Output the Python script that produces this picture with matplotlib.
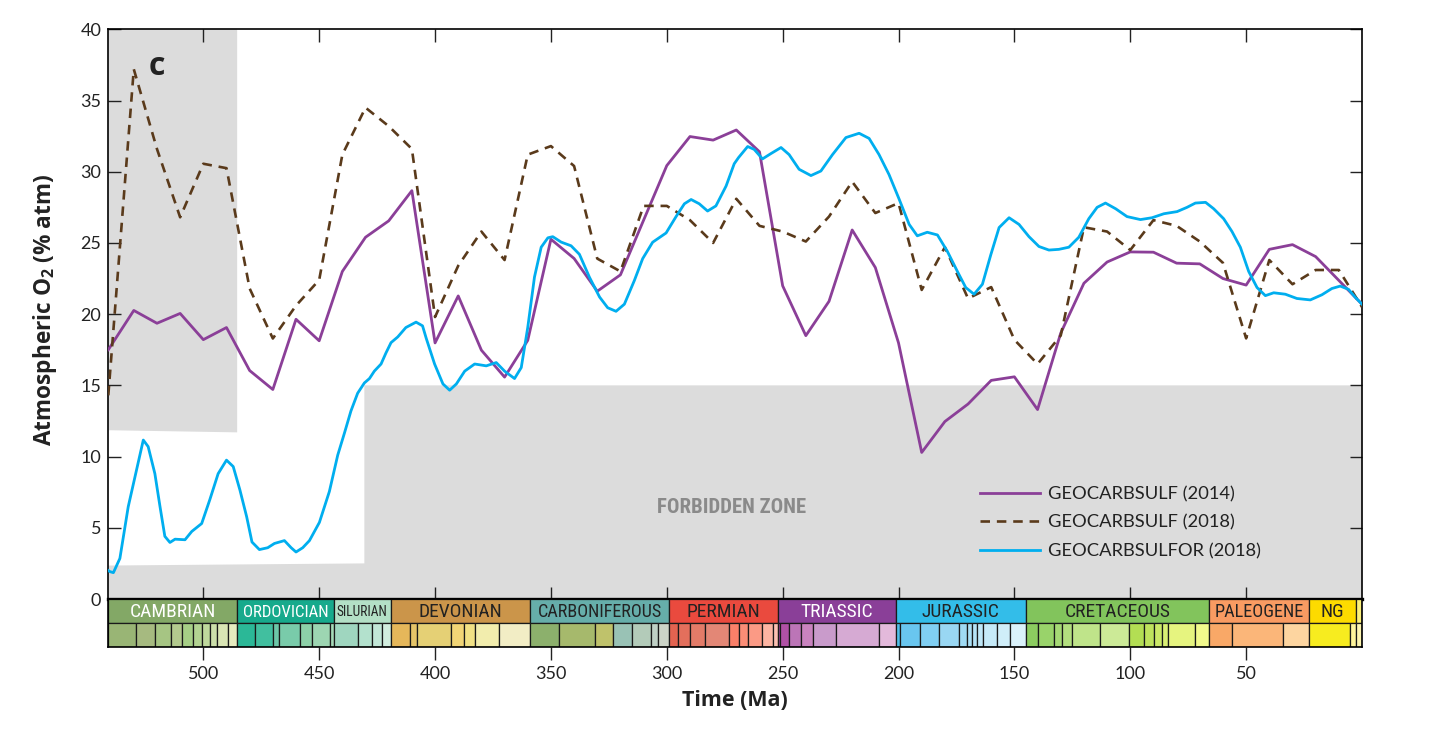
import matplotlib
matplotlib.use("Agg")
import matplotlib.pyplot as plt
from matplotlib import font_manager
from matplotlib.font_manager import FontProperties
from matplotlib.patches import Rectangle

# ---------------- data ----------------
purple_ma = [541, 530, 520, 510, 500, 490, 480, 470, 460, 450, 440, 430, 420, 410,
             400, 390, 380, 370, 360, 350, 340, 330, 320, 310, 300, 290, 280, 270,
             260, 250, 240, 230, 220, 210, 200, 190, 180, 170, 160, 150, 140, 130,
             120, 110, 100, 90, 80, 70, 60, 50, 40, 30, 20, 10, 0]
purple_o2 = [17.5, 20.26, 19.36, 20.05, 18.21, 19.06, 16.04, 14.71, 19.64, 18.13, 23.0, 25.4,
             26.55, 28.67, 17.98, 21.28, 17.47, 15.58, 18.16, 25.26, 23.91, 21.61, 22.76, 26.6,
             30.43, 32.47, 32.22, 32.93, 31.4, 21.99, 18.49, 20.9, 25.91, 23.27, 17.98, 10.29,
             12.46, 13.69, 15.35, 15.6, 13.3, 18.67, 22.17, 23.66, 24.37, 24.35, 23.58, 23.53,
             22.5, 22.04, 24.55, 24.88, 24.04, 22.37, 20.7]

brown_ma = purple_ma
brown_o2 = [14.3, 37.2, 31.6, 26.8, 30.56, 30.25, 21.8, 18.29, 20.6, 22.4, 31.2, 34.5,
            33.2, 31.6, 19.8, 23.4, 25.8, 23.8, 31.2, 31.8, 30.4, 23.9, 23.0, 27.6,
            27.6, 26.6, 25.0, 28.1, 26.2, 25.8, 25.1, 26.85, 29.3, 27.1, 27.8, 21.7,
            24.7, 21.1, 21.9, 18.2, 16.5, 18.5, 26.1, 25.8, 24.5, 26.6, 26.2, 25.1,
            23.6, 18.3, 23.8, 22.1, 23.1, 23.1, 20.5]

blue_ma = [541, 540.3, 538.8, 536, 532.4, 529.5, 525.9, 523.8, 520.9, 518.7, 516.6, 514.4,
           512.2, 507.9, 505, 500.7, 497.2, 493.6, 490, 487.1, 484.2, 481.3, 479, 475.8,
           472.2, 469.3, 465, 462.1, 460, 457.1, 454.2, 449.9, 445.6, 442, 439.1, 436.3,
           433.4, 430.5, 428.3, 426.2, 423.3, 421.2, 419, 416.1, 412.6, 408.2, 405.4, 403.8,
           400.2, 396.6, 393.7, 390.8, 387.2, 382.9, 377.9, 373.6, 370, 365.7, 362.8, 360,
           357.1, 354.2, 351.3, 349.2, 345.6, 341.3, 337.7, 333.4, 329, 325.5, 321.9, 318.3,
           314, 310.4, 306.1, 300.3, 296, 292.4, 289.5, 286, 282.4, 278.8, 274.4, 270.9,
           269, 265.1, 262.3, 258.7, 255.1, 250.7, 247.2, 242.9, 237.8, 233.5, 228.5, 222.7,
           217, 212.7, 208.4, 204.1, 199.8, 195.4, 191.9, 187.6, 183.2, 178.9, 174.6, 171,
           167.4, 163.8, 160.2, 156.6, 152.3, 148, 143.7, 139.4, 135.1, 130.8, 126.5, 122.2,
           117.9, 114.3, 110.7, 106.3, 101.4, 95.6, 90.6, 85.5, 79.8, 75.5, 71.9, 67.5,
           64, 59.7, 56.1, 52.5, 48.9, 45.3, 41.7, 38.1, 33.1, 28.1, 22.3, 17.3,
           13, 9.4, 5.8, 3, 0]
blue_o2 = [2.0, 1.92, 1.85, 2.85, 6.48, 8.58, 11.16, 10.7, 8.8, 6.5, 4.4, 3.97,
           4.2, 4.16, 4.74, 5.3, 6.97, 8.8, 9.75, 9.3, 7.65, 5.78, 4.0, 3.47,
           3.6, 3.9, 4.1, 3.6, 3.3, 3.6, 4.1, 5.38, 7.55, 10.1, 11.65, 13.2,
           14.45, 15.17, 15.48, 16.0, 16.5, 17.27, 18.0, 18.4, 19.06, 19.44, 19.18, 18.3,
           16.5, 15.1, 14.66, 15.1, 16.0, 16.5, 16.37, 16.6, 16.0, 15.48, 16.25, 19.06,
           22.6, 24.7, 25.36, 25.44, 25.06, 24.8, 24.2, 22.6, 21.2, 20.45, 20.2, 20.7,
           22.36, 23.9, 25.05, 25.7, 26.85, 27.75, 28.05, 27.75, 27.24, 27.6, 29.0, 30.56,
           31.0, 31.77, 31.57, 30.9, 31.27, 31.7, 31.2, 30.17, 29.73, 30.05, 31.2, 32.4,
           32.7, 32.34, 31.2, 29.8, 28.1, 26.3, 25.5, 25.75, 25.56, 24.4, 23.0, 21.87,
           21.4, 22.1, 24.16, 26.08, 26.77, 26.3, 25.44, 24.75, 24.5, 24.55, 24.7, 25.4,
           26.7, 27.5, 27.8, 27.4, 26.85, 26.64, 26.77, 27.05, 27.2, 27.5, 27.8, 27.85,
           27.4, 26.7, 25.8, 24.7, 23.0, 21.87, 21.3, 21.5, 21.4, 21.1, 21.0, 21.36,
           21.8, 21.97, 21.74, 21.2, 20.7]

series_labels = ["GEOCARBSULF (2014)", "GEOCARBSULF (2018)", "GEOCARBSULFOR (2018)"]

# shaded zones (Ma, % O2)
cambrian_zone_x = [541, 485.4, 485.4, 541]
cambrian_zone_y = [11.85, 11.7, 40, 40]
forbidden_x = [541, 541, 430.5, 430.5, 0, 0]
forbidden_y = [0, 2.35, 2.5, 15, 15, 0]

# geological time scale
period_names = ["CAMBRIAN", "ORDOVICIAN", "SILURIAN", "DEVONIAN", "CARBONIFEROUS", "PERMIAN",
                "TRIASSIC", "JURASSIC", "CRETACEOUS", "PALEOGENE", "NG", ""]
period_bounds = [541, 485.4, 443.8, 419.2, 358.9, 298.9, 251.9, 201.3, 145.0, 66.0, 23.03, 2.58, 0]
period_colors = ["#83a866", "#17aa8c", "#b3e0c6", "#cb954a", "#66aeaa", "#ea4a3e",
                 "#8a3f98", "#33bde9", "#82c45c", "#f99b62", "#fddb00", "#fbf07a"]
period_text = ["white", "white", "#222222", "#222222", "#222222", "#222222",
               "white", "#222222", "#222222", "#222222", "#222222", "#222222"]

stage_bounds = [541, 529, 521, 514, 509, 504.5, 500.5, 497, 494, 489.5,
                485.4, 477.7, 470, 467.3, 458.4, 453, 445.2,
                443.8, 433.4, 427.4, 423,
                419.2, 410.8, 407.6, 393.3, 387.7, 382.7, 372.2,
                358.9, 346.7, 330.9, 323.2, 315.2, 307.0, 303.7,
                298.9, 295, 290.1, 283.5, 272.95, 268.8, 265.1, 259.1, 254.14,
                251.9, 251.2, 247.2, 242, 237, 227, 208.5,
                201.3, 199.3, 190.8, 182.7, 174.1, 170.3, 168.3, 166.1, 163.5, 157.3, 152.1,
                145, 139.8, 132.9, 129.4, 125, 113, 100.5, 93.9, 89.8, 86.3, 83.6, 72.1,
                66, 56, 33.9,
                23.03, 5.333, 2.58, 0]
stage_colors = ["#99b575", "#a6ba80", "#a6c583", "#b3ca8e", "#a6cf86", "#b3d492", "#bfd99d",
                "#ccdfaa", "#d9e5b4", "#e6ebbf",
                "#2bb897", "#41bf9f", "#6cc7a8", "#79cbaa", "#8dd1a8", "#9dd6b2", "#a6dbb8",
                "#9fd6bf", "#b3e1cd", "#c2e7d7", "#d2eedf",
                "#e5b75a", "#e5c468", "#e5d075", "#f1d576", "#f1e185", "#f2edad", "#f2edc5",
                "#8cb06c", "#a6b96c", "#bfc26b", "#99c2b5", "#b3cbb9", "#bfd0c5", "#ccd4c7",
                "#e36350", "#e36f5c", "#e37b68", "#e38776", "#fb8069", "#fb8d76", "#fb9a85",
                "#fcb4a2", "#fcc0b2",
                "#a4469f", "#b051a5", "#bc75b7", "#c983bf", "#c99bcb", "#d6aad3", "#e3b9db",
                "#4ebfe9", "#69c6ef", "#80cff3", "#99d7f3", "#9fdaf3", "#aadff5", "#b5e3f6",
                "#bfe7f7", "#c6eaf8", "#d0eef9", "#daf2fb",
                "#8ccd60", "#99d36a", "#a6d975", "#b3df7f", "#bfe48a", "#ccea97", "#b3de53",
                "#bfe35d", "#cce968", "#d9ef74", "#e6f47f", "#f2fa8c",
                "#f9a867", "#fbb679", "#fdd5a0",
                "#f7ec1f", "#fff59b", "#fef6b0"]

x_ticks = [500, 450, 400, 350, 300, 250, 200, 150, 100, 50]
y_ticks = [0, 5, 10, 15, 20, 25, 30, 35, 40]

# ---------------- fonts ----------------
names = {f.name for f in font_manager.fontManager.ttflist}
base_font = "Lato" if "Lato" in names else "DejaVu Sans"
label_font = "Open Sans" if "Open Sans" in names else base_font
plt.rcParams["font.family"] = [base_font, "DejaVu Sans"]
plt.rcParams["mathtext.fontset"] = "custom"
plt.rcParams["mathtext.rm"] = label_font
plt.rcParams["mathtext.bf"] = label_font + ":bold"


def find_condensed(bold):
    pref = ["Roboto Condensed", "Open Sans Condensed", "Noto Sans", "DejaVu Sans",
            "Liberation Sans Narrow", "Open Sans", "Roboto"]
    found = []
    for f in font_manager.fontManager.ttflist:
        st = str(f.stretch)
        cond = ("Narrow" in f.name or "Condensed" in f.name or
                st in ("condensed", "semi-condensed", "extra-condensed", "ultra-condensed")
                or "ondensed" in f.fname)
        if not cond:
            continue
        try:
            w = int(f.weight)
        except Exception:
            w = 700 if "bold" in str(f.weight).lower() else 400
        if bold and w < 600:
            continue
        if not bold and not (350 <= w <= 500):
            continue
        if f.style != "normal":
            continue
        rank = len(pref)
        for k, p in enumerate(pref):
            if f.name.startswith(p):
                rank = k
                break
        found.append((rank, f.fname))
    if found:
        found.sort()
        return found[0][1]
    return None


cond_reg = find_condensed(False)
cond_bold = find_condensed(True)


def cfont(size, bold=False):
    fn = cond_bold if bold else cond_reg
    if fn:
        return FontProperties(fname=fn, size=size)
    return FontProperties(family=[base_font, "DejaVu Sans"], size=size,
                          weight="bold" if bold else "normal")


GRAY = "#dcdcdc"
TXT = "#222222"

fig = plt.figure(figsize=(14.42, 7.31), dpi=100)
W, H = 1442, 731
left_px, right_px, top_px, zero_px, bot_px = 108.3, 1362, 29.3, 599, 646.7
ax = fig.add_axes([left_px / W, 1 - zero_px / H, (right_px - left_px) / W, (zero_px - top_px) / H])
ts = fig.add_axes([left_px / W, 1 - bot_px / H, (right_px - left_px) / W, (bot_px - zero_px) / H],
                  sharex=ax)

ax.set_xlim(541, 0)
ax.set_ylim(0, 40)

ax.fill(cambrian_zone_x, cambrian_zone_y, color=GRAY, lw=0, zorder=0)
ax.fill(forbidden_x, forbidden_y, color=GRAY, lw=0, zorder=0)

ax.plot(purple_ma, purple_o2, color="#8b3f98", lw=2.0, zorder=3, label=series_labels[0])
ax.plot(brown_ma, brown_o2, color="#5a3a1b", lw=1.9, ls=(0, (3.6, 2.6)), zorder=3,
        label=series_labels[1])
ax.plot(blue_ma, blue_o2, color="#00aeef", lw=2.0, zorder=4, label=series_labels[2])

ax.text(520, 37.4, "c", fontsize=23, fontweight="bold", ha="center", va="center", color=TXT,
        family=[label_font, "DejaVu Sans"])
fz = ax.text(272, 6.4, "FORBIDDEN ZONE", fontproperties=cfont(15, bold=True),
             color="#8a8a8a", ha="center", va="center")

leg = ax.legend(loc="center left", bbox_to_anchor=(0.695, 0.134), frameon=False, fontsize=13.2,
                handlelength=3.3, handletextpad=0.45, labelspacing=0.66, borderpad=0,
                borderaxespad=0)
for t in leg.get_texts():
    t.set_color(TXT)

ax.set_xticks(x_ticks)
ax.set_yticks(y_ticks)
ax.tick_params(axis="both", direction="in", length=9, width=1.0, top=True, right=True,
               labelbottom=False, labelsize=13, colors=TXT, pad=5)
for s in ["left", "right", "top"]:
    ax.spines[s].set_linewidth(1.2)
ax.spines["bottom"].set_linewidth(2.4)
ax.set_ylabel("Atmospheric O$_\\mathbf{2}$ (% atm)", fontsize=16.3, fontweight="bold", color=TXT,
              family=[label_font, "DejaVu Sans"])
ax.yaxis.set_label_coords(-0.039, 0.508)

# time scale
ts.set_ylim(0, 1)
split = 0.49
period_labels = []
for i in range(len(period_names)):
    x0, x1 = period_bounds[i], period_bounds[i + 1]
    ts.add_patch(Rectangle((x1, split), x0 - x1, 1 - split, facecolor=period_colors[i],
                           edgecolor="#1a1a1a", lw=0.9, zorder=1))
    if period_names[i]:
        t = ts.text((x0 + x1) / 2, split + (1 - split) / 2 - 0.02, period_names[i],
                    fontproperties=cfont(14), color=period_text[i],
                    ha="center", va="center", zorder=3)
        period_labels.append((t, x0, x1))
for i in range(len(stage_colors)):
    x0, x1 = stage_bounds[i], stage_bounds[i + 1]
    ts.add_patch(Rectangle((x1, 0), x0 - x1, split, facecolor=stage_colors[i],
                           edgecolor="#1a1a1a", lw=0.9, zorder=1))
ts.set_yticks([])
ts.set_xticks(x_ticks)
ts.tick_params(axis="x", direction="out", length=9, width=1.0, labelsize=13, colors=TXT, pad=5)
for s in ts.spines.values():
    s.set_linewidth(1.2)
    s.set_zorder(5)
ts.set_xlabel("Time (Ma)", fontsize=15.5, fontweight="bold", color=TXT, labelpad=6,
              family=[label_font, "DejaVu Sans"])

# shrink labels that do not fit their band
fig.canvas.draw()
renderer = fig.canvas.get_renderer()


def band_px(a, x0, x1):
    p0 = a.transData.transform((x0, 0))[0]
    p1 = a.transData.transform((x1, 0))[0]
    return abs(p1 - p0)


for t, x0, x1 in period_labels:
    avail = band_px(ts, x0, x1) * 0.9
    wpx = t.get_window_extent(renderer).width
    if wpx > avail:
        t.set_fontsize(t.get_fontsize() * avail / wpx)

avail = band_px(ax, 304.5, 240)
wpx = fz.get_window_extent(renderer).width
if wpx > avail:
    fz.set_fontsize(fz.get_fontsize() * avail / wpx)

fig.savefig("out.png", dpi=100)
